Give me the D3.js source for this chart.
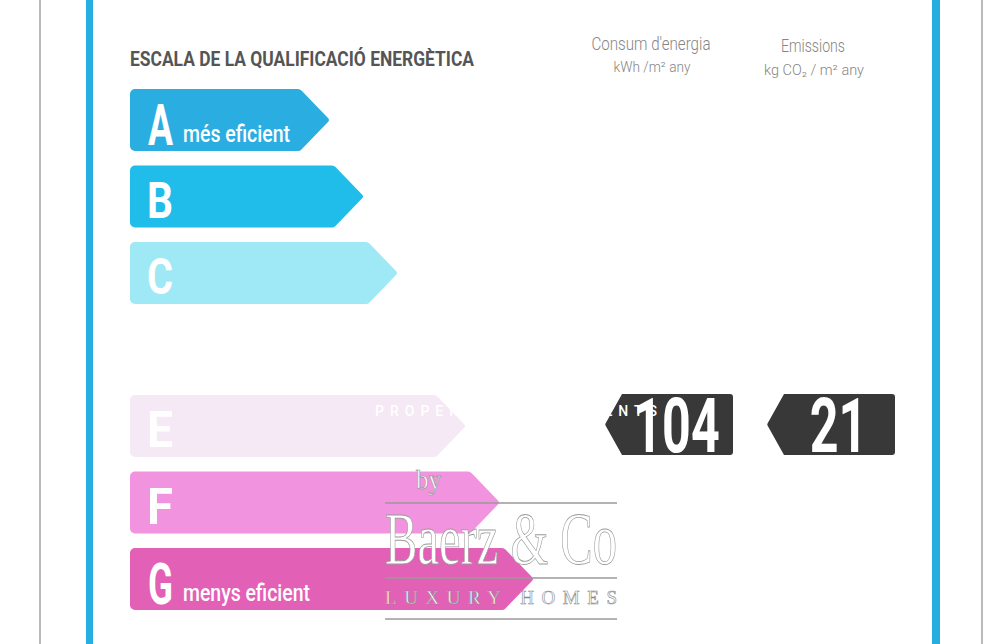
<!DOCTYPE html>
<html>
<head>
<meta charset="utf-8">
<script src="https://cdn.jsdelivr.net/npm/d3@7/dist/d3.min.js"></script>
<style>
html,body{margin:0;padding:0;background:#fff;}
svg{display:block;}
</style>
</head>
<body>
<svg id="chart" width="1000" height="644"></svg>
<script>
// ---- data ----
const categories = ["A", "B", "C", "D", "E", "F", "G"];
const bandLabels = ["més eficient", "", "", "", "", "", "menys eficient"];
const bandColors = ["#2aaee2", "#20bdea", "#9ee9f5", "#ffffff", "#f5e9f5", "#f193de", "#e360b7"];
const bandRank = [0, 1, 2, 3, 4, 5, 6];
const columns = ["Consum d'energia", "Emissions"];
const units = ["kWh /m² any", "kg CO₂ / m² any"];
const values = [104, 21];
const rating = "E";
const title = "ESCALA DE LA QUALIFICACIÓ ENERGÈTICA";

const svg = d3.select("#chart");

// frame lines
svg.append("line").attr("x1", 40).attr("x2", 40).attr("y1", 0).attr("y2", 644)
  .attr("stroke", "#8c8c8c").attr("stroke-width", 1.2);
svg.append("line").attr("x1", 982).attr("x2", 982).attr("y1", 0).attr("y2", 644)
  .attr("stroke", "#8c8c8c").attr("stroke-width", 1.2);
svg.append("rect").attr("x", 86).attr("y", 0).attr("width", 7).attr("height", 644).attr("fill", "#27aee0");
svg.append("rect").attr("x", 932).attr("y", 0).attr("width", 8).attr("height", 644).attr("fill", "#27aee0");

// scales
const y = d3.scaleBand().domain(categories).range([89, 610]).paddingInner(0.19).paddingOuter(0);
const tipX = d3.scaleLinear().domain([0, 6]).range([330, 534]);
const colX = d3.scalePoint().domain(columns).range([651, 813]);

// title
svg.append("text").attr("x", 130).attr("y", 66)
  .attr("font-family", "Roboto, 'Liberation Sans', sans-serif").attr("font-weight", 700)
  .attr("font-size", 20).attr("fill", "#555")
  .attr("textLength", 344).attr("lengthAdjust", "spacingAndGlyphs")
  .text(title);

// column headers
const headerLen = [119, 64];
const unitLen = [77, 100];
columns.forEach((c, i) => {
  const cx = colX(c);
  svg.append("text").attr("x", cx).attr("y", 50 + i * 2).attr("text-anchor", "middle")
    .attr("font-family", "Roboto, sans-serif").attr("font-weight", 300)
    .attr("font-size", 18).attr("fill", "#858585")
    .attr("textLength", headerLen[i]).attr("lengthAdjust", "spacingAndGlyphs")
    .text(c);
  svg.append("text").attr("x", cx + 1).attr("y", 72 + i * 3).attr("text-anchor", "middle")
    .attr("font-family", "Roboto, sans-serif").attr("font-weight", 300)
    .attr("font-size", 14).attr("fill", "#858585")
    .attr("textLength", unitLen[i]).attr("lengthAdjust", "spacingAndGlyphs")
    .text(units[i]);
});

// arrow path helpers
function arrowRight(x0, y0, y1, tip) {
  const p = d3.path(), r = 5, ym = (y0 + y1) / 2, x1 = tip - 30;
  p.moveTo(x0 + r, y0);
  p.arcTo(x1, y0, tip, ym, r);
  p.arcTo(tip, ym, x1, y1, 3);
  p.arcTo(x1, y1, x0, y1, r);
  p.arcTo(x0, y1, x0, y0, r);
  p.arcTo(x0, y0, x1, y0, r);
  p.closePath();
  return p.toString();
}
function arrowLeft(xl, xr, y0, y1, tip) {
  const p = d3.path(), r = 3, ym = (y0 + y1) / 2;
  p.moveTo(xl, y0);
  p.arcTo(xr, y0, xr, y1, r);
  p.arcTo(xr, y1, xl, y1, r);
  p.lineTo(xl, y1);
  p.arcTo(tip, ym, xl, y0, 2);
  p.lineTo(xl, y0);
  p.closePath();
  return p.toString();
}

// bars
const bars = svg.append("g");
categories.forEach((c, i) => {
  const y0 = y(c), y1 = y0 + y.bandwidth();
  bars.append("path").attr("d", arrowRight(130, y0, y1, tipX(bandRank[i])))
    .attr("fill", bandColors[i]);
  const big = bandLabels[i] !== "";
  bars.append("text").attr("x", big ? 148 : 147).attr("y", y0 + (big ? 56 : 52))
    .attr("font-family", "Roboto, sans-serif").attr("font-weight", 700)
    .attr("font-size", big ? 58 : 50).attr("fill", "#fff")
    .attr("textLength", big ? 25 : 26).attr("lengthAdjust", "spacingAndGlyphs")
    .text(c);
  if (big) {
    bars.append("text").attr("x", 183).attr("y", y0 + 53)
      .attr("font-family", "Roboto, sans-serif").attr("font-weight", 500)
      .attr("font-size", 23).attr("fill", "#fff")
      .attr("textLength", i === 0 ? 107 : 127).attr("lengthAdjust", "spacingAndGlyphs")
      .text(bandLabels[i]);
  }
});

// value arrows
const vy0 = y(rating) - 1, vy1 = vy0 + 61;
columns.forEach((c, i) => {
  const cx = colX(c);
  const xl = cx - 29, xr = cx + 82, tip = cx - 46;
  svg.append("path").attr("d", arrowLeft(xl, xr, vy0, vy1, tip)).attr("fill", "#383838");
  svg.append("g").attr("transform", `translate(${(xl + xr) / 2 - 1},${vy1 - 3}) scale(0.66,1)`)
    .append("text").attr("text-anchor", "middle")
    .attr("font-family", "Roboto, sans-serif").attr("font-weight", 700)
    .attr("font-size", 76).attr("fill", "#fff")
    .text(values[i]);
});

// watermark
const wm = svg.append("g");
wm.append("text").attr("x", 375).attr("y", 416)
  .attr("font-family", "Roboto, sans-serif").attr("font-weight", 500)
  .attr("font-size", 14).attr("fill", "#fff")
  .attr("textLength", 282).attr("lengthAdjust", "spacing")
  .text("PROPERTY INVESTMENTS");
[503, 578, 619].forEach(ly => {
  wm.append("line").attr("x1", 385).attr("x2", 617).attr("y1", ly).attr("y2", ly)
    .attr("stroke", "#9a9a9a").attr("stroke-width", 1.3);
});
wm.append("text").attr("x", 416).attr("y", 489)
  .attr("font-family", "'Liberation Serif', serif").attr("font-size", 28)
  .attr("fill", "#fff").attr("stroke", "#8a8a8a").attr("stroke-width", 0.6)
  .attr("textLength", 25).attr("lengthAdjust", "spacingAndGlyphs")
  .text("by");
wm.append("text").attr("x", 385).attr("y", 564)
  .attr("font-family", "'Liberation Serif', serif").attr("font-size", 74)
  .attr("fill", "#fff").attr("stroke", "#9a9a9a").attr("stroke-width", 0.8)
  .attr("textLength", 232).attr("lengthAdjust", "spacingAndGlyphs")
  .text("Baerz & Co");
wm.append("text").attr("x", 385).attr("y", 604)
  .attr("font-family", "'Liberation Serif', serif").attr("font-size", 19)
  .attr("fill", "#fff").attr("stroke", "#8a8a8a").attr("stroke-width", 0.6)
  .attr("textLength", 232).attr("lengthAdjust", "spacing")
  .text("LUXURY HOMES");
</script>
</body>
</html>
